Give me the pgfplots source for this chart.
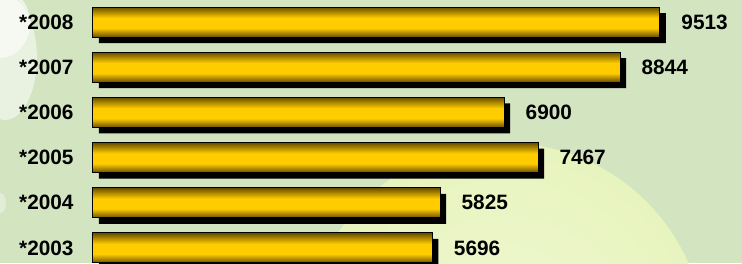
\documentclass[border=0pt]{standalone}
\usepackage{pgfplots}
\pgfplotsset{compat=1.18}
\usepackage{fontspec}
\setmainfont{Liberation Sans}
\definecolor{bgc}{RGB}{211,228,193}
\definecolor{ylw}{RGB}{232,244,190}
\definecolor{gdark}{RGB}{105,78,0}
\definecolor{gbright}{RGB}{255,204,0}
\pgfdeclareverticalshading{goldbar}{100bp}{color(0bp)=(gdark); color(25bp)=(gdark); color(40bp)=(gbright); color(57bp)=(gbright); color(75bp)=(gdark); color(100bp)=(gdark)}
\newcommand{\lblfont}{\bfseries\fontsize{20.8}{24}\selectfont}
\pgfplotsset{goldstyle/.style={draw=black, line width=1pt, shading=goldbar,
  nodes near coords, point meta=explicit symbolic,
  nodes near coords style={font=\lblfont, anchor=west, inner sep=0pt, xshift=21pt}}}
\begin{document}
\begin{tikzpicture}
\useasboundingbox (0,0) rectangle (742pt,263pt);
\begin{scope}
\clip (0,0) rectangle (742pt,263pt);
\fill[bgc] (0,0) rectangle (742pt,263pt);
\shade[inner color=ylw!70!white, outer color=ylw] (505pt,-80pt) circle (200pt);
\fill[white, opacity=0.5] (5pt,205pt) ellipse (32pt and 62pt);
\fill[white, opacity=0.6] (0pt,240pt) ellipse (30pt and 35pt);
\fill[white, opacity=0.35] (0pt,60pt) ellipse (6pt and 10pt);
\end{scope}
\begin{axis}[
  at={(93pt,0pt)}, anchor=south west,
  scale only axis, width=649pt, height=263pt,
  xmin=0, xmax=10890, ymin=-0.332, ymax=5.487,
  xbar, bar width=30pt, bar shift=0pt,
  axis line style={draw=none}, tick style={draw=none},
  xtick=\empty, ytick={0,1,2,3,4,5},
  yticklabels={*2003,*2004,*2005,*2006,*2007,*2008},
  yticklabel style={font=\lblfont, inner sep=0pt, xshift=-15pt},
  clip=false,
]
% shadows
\addplot[forget plot, fill=black, draw=none, xshift=6pt, yshift=-6pt]
  coordinates {(5696,0) (5825,1) (7467,2) (6900,3) (8844,4) (9513,5)};
% bars, one per plot so that each bar has its own shading
\addplot[goldstyle] coordinates {(5696,0)[5696]};
\addplot[goldstyle] coordinates {(5825,1)[5825]};
\addplot[goldstyle] coordinates {(7467,2)[7467]};
\addplot[goldstyle] coordinates {(6900,3)[6900]};
\addplot[goldstyle] coordinates {(8844,4)[8844]};
\addplot[goldstyle] coordinates {(9513,5)[9513]};
\end{axis}
\end{tikzpicture}
\end{document}
